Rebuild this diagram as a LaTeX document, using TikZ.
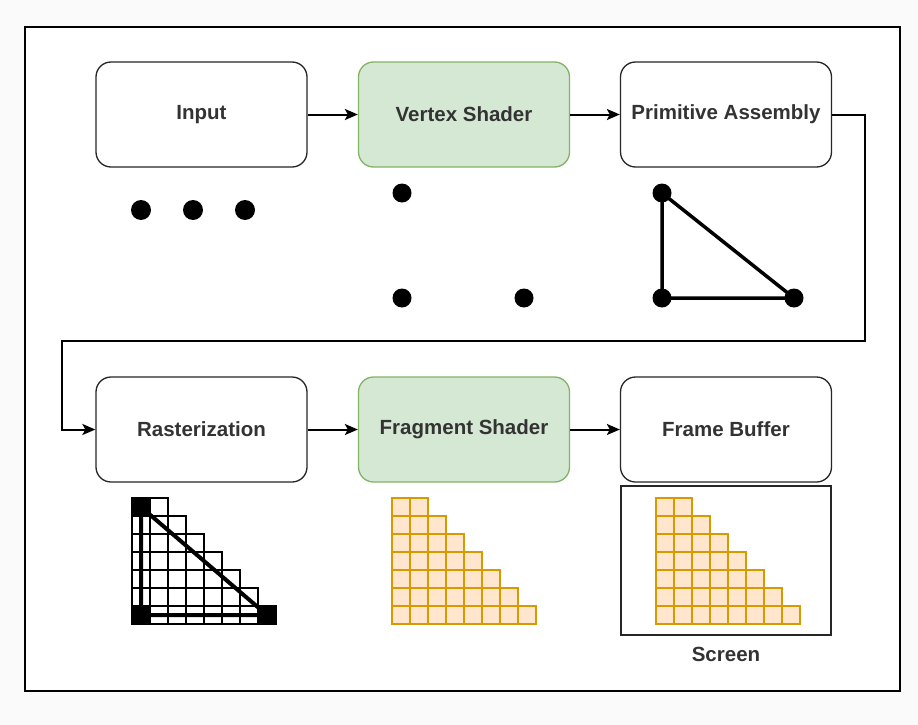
\documentclass[tikz,border=0pt]{standalone}
\usepackage{fontspec}
\setmainfont{Liberation Sans}
\usetikzlibrary{arrows.meta}
\definecolor{gfill}{HTML}{D5E8D4}
\definecolor{gline}{HTML}{82B366}
\definecolor{ofill}{HTML}{FFE6CC}
\definecolor{oline}{HTML}{D79B00}
\definecolor{txt}{HTML}{333333}
\definecolor{bg}{HTML}{FAFAFA}
\newcommand{\stairgrid}[4]{%
  \foreach \rr in {1,...,7}{%
    \pgfmathtruncatemacro\ncells{\rr+1}%
    \foreach \cc in {1,...,\ncells}{%
      \pgfmathsetmacro\gx{#1+(\cc-1)*18}%
      \pgfmathsetmacro\gy{#2+(\rr-1)*18}%
      \fill[#3] (\gx,\gy) rectangle ++(18,18);
    }%
  }%
  \foreach \rr in {1,...,7}{%
    \pgfmathtruncatemacro\ncells{\rr+1}%
    \foreach \cc in {1,...,\ncells}{%
      \pgfmathsetmacro\gx{#1+(\cc-1)*18}%
      \pgfmathsetmacro\gy{#2+(\rr-1)*18}%
      \draw[#4] (\gx,\gy) rectangle ++(18,18);
    }%
  }%
}
\begin{document}
\begin{tikzpicture}[x=1pt,y=-1pt,
  stagebox/.style={draw=black!85, line width=1.3pt, rounded corners=15pt,
    minimum width=211pt, minimum height=105pt, fill=white, text=txt,
    font=\fontsize{20.5}{24}\selectfont\bfseries},
  greenbox/.style={stagebox, fill=gfill, draw=gline},
  conn/.style={line width=2pt, -{Stealth[length=13pt,width=11pt,inset=3pt]}},
  dotc/.style={fill=black, draw=none},
  orangefill/.style={ofill},
  orangeline/.style={draw=oline, line width=2pt},
  rastfill/.style={white},
  rastline/.style={draw=black, line width=1.6pt}]
\useasboundingbox (0,0) rectangle (918,725);
\fill[bg] (0,0) rectangle (918,725);
\draw[line width=1.8pt, fill=white] (25,27) rectangle (900,691);

% stages
\node[stagebox] (input) at (201.5,114.5) {Input};
\node[greenbox] (vertex) at (464,114.5) {Vertex Shader};
\node[stagebox] (prim) at (726,114.5) {Primitive Assembly};
\node[stagebox] (rast) at (201.5,429.5) {Rasterization};
\node[greenbox] (frag) at (464,429.5) {Fragment Shader};
\node[stagebox] (fb) at (726,429.5) {Frame Buffer};

% connectors
\draw[conn] (input) -- (vertex);
\draw[conn] (vertex) -- (prim);
\draw[conn] (rast) -- (frag);
\draw[conn] (frag) -- (fb);
\coordinate (c1) at (865,341);
\coordinate (c2) at (62,341);
\draw[conn] (prim.east) -| (c1) -- (c2) |- (rast.west);

% input dots
\fill[dotc] (141,210) circle (10);
\fill[dotc] (193,210) circle (10);
\fill[dotc] (245,210) circle (10);

% vertex shader dots
\fill[dotc] (402,193) circle (9.5);
\fill[dotc] (402,298) circle (9.5);
\fill[dotc] (524,298) circle (9.5);

% primitive assembly triangle
\draw[line width=3.5pt, line join=round] (662,193) -- (662,298) -- (794,298) -- cycle;
\fill[dotc] (662,193) circle (9.5);
\fill[dotc] (662,298) circle (9.5);
\fill[dotc] (794,298) circle (9.5);

% rasterization grid
\stairgrid{132}{498}{rastfill}{rastline}
\fill[black] (132,498) rectangle ++(18,18);
\fill[black] (132,606) rectangle ++(18,18);
\fill[black] (258,606) rectangle ++(18,18);
\draw[line width=4pt, line join=round] (141,507) -- (141,615) -- (267,615) -- cycle;

% fragment grid
\stairgrid{392}{498}{orangefill}{orangeline}

% screen
\node[draw=black!85, line width=1.8pt, minimum width=210pt, minimum height=149pt, inner sep=0pt] (screen) at (726,560.5) {};
\stairgrid{656}{498}{orangefill}{orangeline}
\node[text=txt, font=\fontsize{20.5}{24}\selectfont\bfseries] (screenlbl) at (726,654) {Screen};
\end{tikzpicture}
\end{document}
